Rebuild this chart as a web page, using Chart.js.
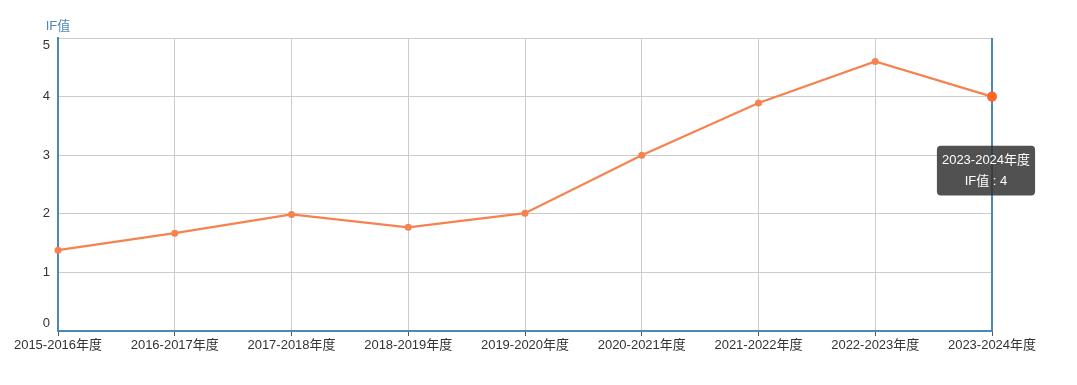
<!DOCTYPE html>
<html>
<head>
<meta charset="utf-8">
<script src="https://cdn.jsdelivr.net/npm/chart.js@4"></script>
<style>
  html, body { margin: 0; padding: 0; background: #fff; }
  #wrap { width: 1077px; height: 385px; }
</style>
</head>
<body>
<div id="wrap"><canvas id="if-chart"></canvas></div>
<script>
const years = ['2015-2016年度', '2016-2017年度', '2017-2018年度', '2018-2019年度', '2019-2020年度',
               '2020-2021年度', '2021-2022年度', '2022-2023年度', '2023-2024年度'];
const ifValues = [1.38, 1.67, 1.99, 1.77, 2.01, 3.0, 3.89, 4.6, 4.0];
const yTicks = [0, 1, 2, 3, 4, 5];
const seriesName = 'IF值';

const axisBlue = '#4d88b3';
const lineOrange = '#f5824f';
const fontFamily = '"Liberation Sans", Arial, "Noto Sans CJK SC", sans-serif';

// tooltip placed below the hovered point, like the original
Chart.Tooltip.positioners.below = function(elements) {
    if (!elements.length) return false;
    const el = elements[0].element;
    return { x: el.x - 6, y: el.y + 74, xAlign: 'center', yAlign: 'center' };
};

// y labels, axis name and axis pointer drawn by hand
const extras = {
    id: 'extras',
    beforeDatasetsDraw(chart) {
        const ctx = chart.ctx;
        const area = chart.chartArea;
        const active = chart.getActiveElements();
        if (active.length) {
            ctx.save();
            ctx.strokeStyle = axisBlue;
            ctx.lineWidth = 2;
            ctx.beginPath();
            ctx.moveTo(active[0].element.x, area.top);
            ctx.lineTo(active[0].element.x, area.bottom);
            ctx.stroke();
            ctx.restore();
        }
    },
    afterDraw(chart) {
        const ctx = chart.ctx;
        const area = chart.chartArea;
        const yScale = chart.scales.y;
        ctx.save();
        ctx.font = '13px ' + fontFamily;
        ctx.fillStyle = '#333';
        ctx.textAlign = 'right';
        ctx.textBaseline = 'middle';
        yTicks.forEach(v => {
            let y = yScale.getPixelForValue(v);
            y = Math.min(Math.max(y, area.top + 7), area.bottom - 8);
            ctx.fillText(String(v), area.left - 8, y);
        });
        ctx.fillStyle = axisBlue;
        ctx.textAlign = 'center';
        ctx.font = '13px ' + fontFamily;
        ctx.fillText(seriesName, area.left, area.top - 12);
        ctx.restore();
    }
};

const chart = new Chart(document.getElementById('if-chart'), {
    type: 'line',
    data: {
        labels: years,
        datasets: [{
            label: seriesName,
            data: ifValues,
            borderColor: lineOrange,
            backgroundColor: lineOrange,
            borderWidth: 2.2,
            pointRadius: 3.5,
            pointHoverRadius: 5,
            pointBorderWidth: 0,
            pointHoverBorderWidth: 0,
            tension: 0
        }]
    },
    options: {
        responsive: true,
        maintainAspectRatio: false,
        animation: false,
        layout: { padding: { left: 0, right: 85, top: 38, bottom: 0 } },
        plugins: {
            legend: { display: false },
            tooltip: {
                position: 'below',
                backgroundColor: 'rgba(50,50,50,0.85)',
                displayColors: false,
                caretSize: 0,
                cornerRadius: 4,
                padding: { left: 5, right: 5, top: 6, bottom: 6 },
                titleAlign: 'center',
                bodyAlign: 'center',
                titleFont: { family: fontFamily, size: 13, weight: 'normal', lineHeight: 1.3 },
                bodyFont: { family: fontFamily, size: 13, lineHeight: 1.3 },
                titleMarginBottom: 4,
                callbacks: {
                    label: c => c.dataset.label + ' : ' + c.formattedValue
                }
            }
        },
        scales: {
            x: {
                offset: false,
                grid: { color: '#cccccc', tickLength: 5, tickColor: '#555', drawTicks: true },
                border: { color: axisBlue, width: 2 },
                ticks: {
                    color: '#333',
                    font: { family: fontFamily, size: 13 },
                    maxRotation: 0,
                    autoSkip: false,
                    padding: 2
                },
                afterFit(scale) { scale.height = 54; }
            },
            y: {
                min: 0,
                max: 5,
                grid: { color: '#cccccc', drawTicks: false },
                border: { color: axisBlue, width: 2 },
                ticks: { display: false, stepSize: 1 },
                afterFit(scale) { scale.width = 58; }
            }
        }
    },
    plugins: [extras]
});

const activeEls = [{ datasetIndex: 0, index: ifValues.length - 1 }];
chart.setActiveElements(activeEls);
chart.tooltip.setActiveElements(activeEls, { x: 0, y: 0 });
chart.update();
</script>
</body>
</html>
